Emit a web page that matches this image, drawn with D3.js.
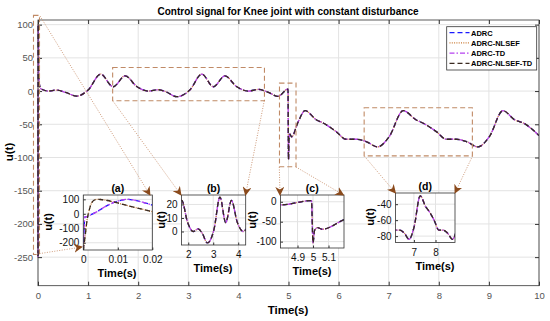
<html>
<head>
<meta charset="utf-8">
<script src="https://cdn.jsdelivr.net/npm/d3@7"></script>
<style>
  body { margin: 0; background: #fff; }
  text { font-family: "Liberation Sans", Arial, sans-serif; }
</style>
</head>
<body>
<script>
// series styling (legend order)
var names = ["ADRC", "ADRC-NLSEF", "ADRC-TD", "ADRC-NLSEF-TD"];
var colors = ["#1a1aff", "#c97a34", "#b540f0", "#3a2a20"];
var dashes = ["5,3", "1,1.3", "5,2,1.5,2", "5,3"];

// control signal (all four controllers overlap here)
var tMain = [0, 0.0006, 0.004, 0.02, 0.05, 0.1, 0.2, 0.37, 0.55, 0.77, 1.0, 1.25, 1.5, 1.74, 1.97, 2.2, 2.4, 2.55,
             2.77, 3.03, 3.27, 3.5, 3.73, 3.96, 4.2, 4.4, 4.6, 4.79, 4.99, 5.0, 5.01, 5.03, 5.06, 5.2, 5.33, 5.56,
             5.69, 5.95, 6.15, 6.35, 6.55, 6.78, 7.01, 7.29, 7.55, 7.68, 7.95, 8.15, 8.35, 8.55, 8.78, 9.01,
             9.28, 9.51, 9.71, 10];
var uMain = [0, -250, 100, 15, 4, 2, 0, 1.5, -2, -7.5, 1.5, 25.5, 6.5, 23, 7, 0, 2, -1,
             -8.5, 1.5, 25.5, 6.5, 23, 7, 0, 2.5, -2, -8, 3, -103, -72, -65, -69, -45, -29.5, -43.5,
             -48, -61, -72.5, -72.5, -76, -84, -68.5, -29.5, -43.5, -48, -61, -72.5, -72.5, -76, -84, -68.5,
             -29.5, -43, -49, -67];

// first 20 ms (inset a): two distinct responses
var tStart = [0, 0.0005, 0.001, 0.002, 0.003, 0.004, 0.005, 0.007, 0.01, 0.013, 0.016, 0.02];
var uFast  = [-250, -160, -60, 50, 92, 100, 99, 92, 75, 55, 38, 15];
var uSlow  = [-250, -19, -20, -10, 3, 15, 30, 58, 88, 100, 88, 60];
var slowIdx = [0, 2]; // series following uSlow in inset (a)

var xTicks = d3.range(0, 11);
var yTicks = [-250, -200, -150, -100, -50, 0, 50, 100];

var width = 550, height = 321;
var svg = d3.select("body").append("svg").attr("width", width).attr("height", height);

var x = d3.scaleLinear().domain([0, 10]).range([38, 539]);
var y = d3.scaleLinear().domain([-293, 107]).range([285.7, 20]);

var mainPts = tMain.map(function(t, i) { return [t, uMain[i]]; });
var plain = function(d) { return String(d); };

// grid
svg.append("g").selectAll("line").data(xTicks).enter().append("line")
    .attr("x1", x).attr("x2", x).attr("y1", y.range()[1]).attr("y2", y.range()[0])
    .attr("stroke", "#e3e3e3");
svg.append("g").selectAll("line").data(yTicks).enter().append("line")
    .attr("y1", y).attr("y2", y).attr("x1", x.range()[0]).attr("x2", x.range()[1])
    .attr("stroke", "#e3e3e3");

svg.append("clipPath").attr("id", "clipMain").append("rect")
    .attr("x", 36).attr("y", 20).attr("width", 503).attr("height", 266);

function drawLines(g, xs, ys, dataFor) {
  var line = d3.line().x(function(d) { return xs(d[0]); }).y(function(d) { return ys(d[1]); })
      .curve(d3.curveMonotoneX);
  names.forEach(function(n, i) {
    g.append("path").attr("d", line(dataFor(i)))
      .attr("fill", "none").attr("stroke", colors[i]).attr("stroke-width", 1.3)
      .attr("stroke-dasharray", dashes[i]);
  });
}

drawLines(svg.append("g").attr("clip-path", "url(#clipMain)"), x, y, function() { return mainPts; });

// frame + axes (MATLAB style, inward ticks)
svg.append("rect").attr("x", 38).attr("y", 20).attr("width", 501).attr("height", 265.7)
    .attr("fill", "none").attr("stroke", "#333").attr("stroke-width", 0.8);

function styleAxis(g, col, fs) {
  g.select(".domain").remove();
  g.selectAll(".tick line").attr("stroke", "#333");
  g.selectAll(".tick text").attr("fill", col).style("font-size", fs);
}
var gx = svg.append("g").attr("transform", "translate(0,285.7)")
    .call(d3.axisBottom(x).tickValues(xTicks).tickSize(-4).tickPadding(7).tickFormat(plain));
styleAxis(gx, "#555", "9.5px");
var gy = svg.append("g").attr("transform", "translate(38,0)")
    .call(d3.axisLeft(y).tickValues(yTicks).tickSize(-4).tickPadding(5).tickFormat(plain));
styleAxis(gy, "#555", "9.5px");
styleAxis(svg.append("g").attr("transform", "translate(0,20)")
    .call(d3.axisTop(x).tickValues(xTicks).tickSize(-4).tickFormat("")), "#555", "9px");
styleAxis(svg.append("g").attr("transform", "translate(539,0)")
    .call(d3.axisRight(y).tickValues(yTicks).tickSize(-4).tickFormat("")), "#555", "9px");

// titles
svg.append("text").attr("x", 288).attr("y", 15).attr("text-anchor", "middle")
    .style("font-size", "11.5px").style("font-weight", "bold")
    .attr("textLength", 261).attr("lengthAdjust", "spacingAndGlyphs")
    .text("Control signal for Knee joint with constant disturbance");
svg.append("text").attr("x", 288).attr("y", 314).attr("text-anchor", "middle")
    .style("font-size", "11.5px").style("font-weight", "bold").text("Time(s)");
svg.append("text").attr("transform", "translate(13,152) rotate(-90)").attr("text-anchor", "middle")
    .style("font-size", "11.5px").style("font-weight", "bold").text("u(t)");

// zoom regions in data coordinates
var zoomBoxes = [
  {t0: -0.09, t1: 0.03, u0: -246, u1: 114},
  {t0: 1.49, t1: 4.52, u0: -14.5, u1: 35.5},
  {t0: 4.82, t1: 5.15, u0: -114, u1: 12},
  {t0: 6.51, t1: 8.67, u0: -97.5, u1: -25}
];
svg.append("g").selectAll("rect").data(zoomBoxes).enter().append("rect")
    .attr("x", function(d) { return x(d.t0); }).attr("y", function(d) { return y(d.u1); })
    .attr("width", function(d) { return x(d.t1) - x(d.t0); })
    .attr("height", function(d) { return y(d.u0) - y(d.u1); })
    .attr("fill", "none").attr("stroke", "#c08a66").attr("stroke-width", 1.1)
    .attr("stroke-dasharray", "5,3");

// legend
var lg = svg.append("g");
lg.append("rect").attr("x", 446.7).attr("y", 26.7).attr("width", 90).attr("height", 43.3)
    .attr("fill", "#fff").attr("stroke", "#333").attr("stroke-width", 0.8);
names.forEach(function(n, i) {
  var yy = 32.7 + i * 10.2;
  lg.append("line").attr("x1", 449.5).attr("x2", 469.5).attr("y1", yy).attr("y2", yy)
    .attr("stroke", colors[i]).attr("stroke-width", 1.3).attr("stroke-dasharray", dashes[i]);
  lg.append("text").attr("x", 471).attr("y", yy + 2.8).style("font-size", "7.5px")
    .style("font-weight", "bold").text(n);
});

// insets
var insetId = 0;
function inset(o) {
  var g = svg.append("g");
  var ix = d3.scaleLinear().domain(o.xd).range([o.x0, o.x1]);
  var iy = d3.scaleLinear().domain(o.yd).range([o.y1, o.y0]);
  var id = "clipInset" + (insetId++);
  g.append("rect").attr("x", o.x0).attr("y", o.y0).attr("width", o.x1 - o.x0).attr("height", o.y1 - o.y0)
    .attr("fill", "#fff");
  g.append("g").selectAll("line").data(o.xt).enter().append("line")
    .attr("x1", ix).attr("x2", ix).attr("y1", o.y0).attr("y2", o.y1).attr("stroke", "#e3e3e3");
  g.append("g").selectAll("line").data(o.yt).enter().append("line")
    .attr("y1", iy).attr("y2", iy).attr("x1", o.x0).attr("x2", o.x1).attr("stroke", "#e3e3e3");
  g.append("clipPath").attr("id", id).append("rect")
    .attr("x", o.x0).attr("y", o.y0).attr("width", o.x1 - o.x0).attr("height", o.y1 - o.y0);
  drawLines(g.append("g").attr("clip-path", "url(#" + id + ")"), ix, iy, o.data);
  g.append("rect").attr("x", o.x0).attr("y", o.y0).attr("width", o.x1 - o.x0).attr("height", o.y1 - o.y0)
    .attr("fill", "none").attr("stroke", "#333").attr("stroke-width", 0.8);
  var ax = g.append("g").attr("transform", "translate(0," + o.y1 + ")")
    .call(d3.axisBottom(ix).tickValues(o.xt).tickSize(-2.5).tickPadding(6).tickFormat(plain));
  styleAxis(ax, "#111", "10px");
  var ay = g.append("g").attr("transform", "translate(" + o.x0 + ",0)")
    .call(d3.axisLeft(iy).tickValues(o.yt).tickSize(-2.5).tickPadding(4).tickFormat(plain));
  styleAxis(ay, "#111", "10px");
  g.append("text").attr("x", (o.x0 + o.x1) / 2).attr("y", o.y0 - 3).attr("text-anchor", "middle")
    .style("font-size", "10.5px").style("font-weight", "bold").text(o.label);
  g.append("text").attr("x", o.tx).attr("y", o.ty).attr("text-anchor", "middle")
    .style("font-size", "11px").style("font-weight", "bold").text("Time(s)");
  g.append("text").attr("transform", "translate(" + o.ux + "," + o.uy + ") rotate(-90)")
    .attr("text-anchor", "middle").style("font-size", "11px").style("font-weight", "bold").text("u(t)");
}

inset({x0: 83.3, x1: 152.3, y0: 195, y1: 250, xd: [0, 0.02], yd: [-250, 130],
       xt: [0, 0.01, 0.02], yt: [-200, -100, 0, 100], label: "(a)", tx: 117, ty: 277, ux: 52, uy: 222,
       data: function(i) {
         var u = slowIdx.indexOf(i) >= 0 ? uSlow : uFast;
         return tStart.map(function(t, k) { return [t, u[k]]; });
       }});
inset({x0: 181.5, x1: 245.7, y0: 195, y1: 245, xd: [1.73, 4.3], yd: [-10, 27],
       xt: [2, 3, 4], yt: [0, 10, 20], label: "(b)", tx: 213, ty: 272, ux: 165, uy: 220,
       data: function() { return mainPts; }});
inset({x0: 280.5, x1: 344, y0: 195, y1: 248, xd: [4.79, 5.2], yd: [-116, 17],
       xt: [4.9, 5, 5.1], yt: [-100, -50, 0], label: "(c)", tx: 312, ty: 275, ux: 256, uy: 220,
       data: function() { return mainPts; }});
inset({x0: 395.5, x1: 455, y0: 193, y1: 242.5, xd: [6.15, 8.9], yd: [-88, -26],
       xt: [7, 8], yt: [-80, -60, -40], label: "(d)", tx: 435, ty: 270, ux: 374, uy: 217,
       data: function() { return mainPts; }});

// connectors with arrowheads
svg.append("defs").append("marker").attr("id", "arr").attr("viewBox", "0 0 10 10")
    .attr("refX", 9).attr("refY", 5).attr("markerWidth", 9).attr("markerHeight", 9)
    .attr("markerUnits", "userSpaceOnUse").attr("orient", "auto")
  .append("path").attr("d", "M0,0 L10,5 L0,10 L3,5 z").attr("fill", "#8a4a1c");

var links = [
  [40, 16, 150, 195], [37, 254, 82, 247],
  [112.7, 100.7, 181, 195], [264.3, 100.7, 245.5, 195],
  [279.3, 167, 280, 195], [296, 167, 343.5, 195],
  [364.3, 156, 395.5, 193], [472.5, 156, 455, 193]
];
svg.append("g").selectAll("line").data(links).enter().append("line")
    .attr("x1", function(d) { return d[0]; }).attr("y1", function(d) { return d[1]; })
    .attr("x2", function(d) { return d[2]; }).attr("y2", function(d) { return d[3]; })
    .attr("stroke", "#c8906c").attr("stroke-width", 0.9).attr("stroke-dasharray", "1,1.5")
    .attr("marker-end", "url(#arr)");
</script>
</body>
</html>
